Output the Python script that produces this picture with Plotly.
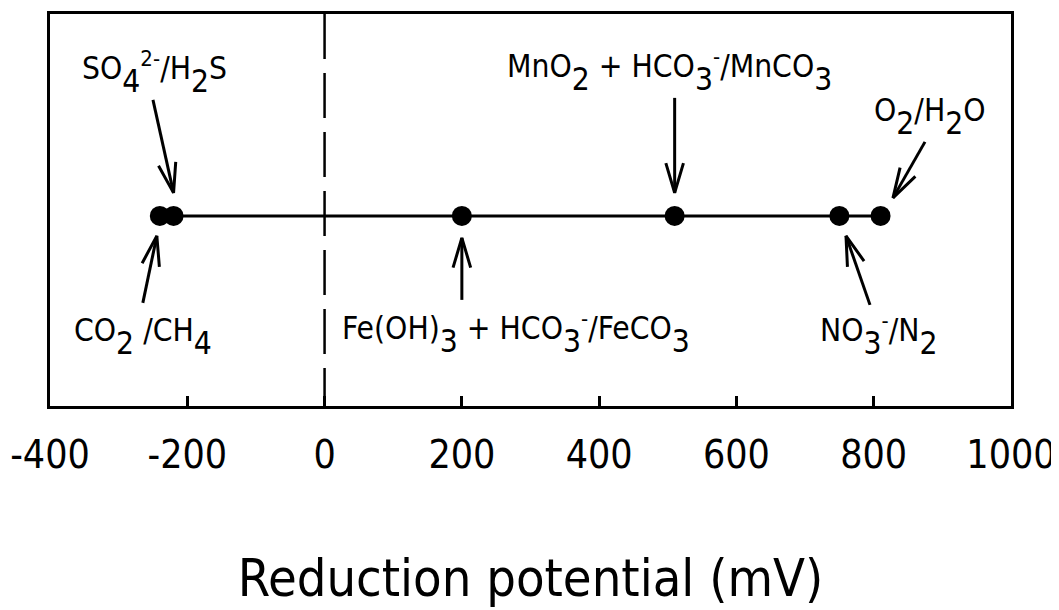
import math
import plotly.graph_objects as go

# ---- data ----
couples = ["CO2/CH4", "SO4/H2S", "Fe(OH)3/FeCO3", "MnO2/MnCO3", "NO3/N2", "O2/H2O"]
potentials_mV = [-240, -220, 200, 510, 750, 810]
x_ticks = [-400, -200, 0, 200, 400, 600, 800, 1000]
x_range = [-400, 1000]
y_range = [0, 1]
LEVEL = 0.485


def SUB(t):
    return f'<span style="baseline-shift:-0.4em">{t}</span>'


label_texts = [
    "CO" + SUB("2") + " /CH" + SUB("4"),
    "SO" + SUB("4") + "<sup>2-</sup>/H" + SUB("2") + "S",
    "Fe(OH)" + SUB("3") + " + HCO" + SUB("3") + "<sup>-</sup>/FeCO" + SUB("3"),
    "MnO" + SUB("2") + " + HCO" + SUB("3") + "<sup>-</sup>/MnCO" + SUB("3"),
    "NO" + SUB("3") + "<sup>-</sup>/N" + SUB("2"),
    "O" + SUB("2") + "/H" + SUB("2") + "O",
]

# ---- layout / style (pixel offsets relative to each point) ----
PAGE_OFF = 8  # default body margin of the page
W, H = 1059 - PAGE_OFF, 610 - PAGE_OFF
ML, MR, MT, MB = 50 - PAGE_OFF, 48, 14 - PAGE_OFF, 204
FONT = "DejaVu Sans Condensed, DejaVu Sans, sans-serif"
LABEL_SIZE = 31.5
tip_off = [(-3, 20), (0, -23), (0, 22), (0, -23), (6.6, 20), (12.4, -18)]
tail_off = [(-17, 87), (-20.6, -116), (0, 84), (0, -118), (30.6, 89), (44.4, -74)]
label_off = [(-88, 126), (-94, -136), (-122, 124), (-170, -138), (-21, 126), (-9, -94)]
HEAD_LEN = 31
HEAD_ANG = math.radians(16.5)

PX_PER_X = (W - ML - MR) / (x_range[1] - x_range[0])
PX_PER_Y = (H - MT - MB) / (y_range[1] - y_range[0])


def to_data(v, px, py):
    return v + px / PX_PER_X, LEVEL - py / PX_PER_Y


fig = go.Figure()

fig.add_shape(type="line", xref="x", yref="paper", x0=0, x1=0, y0=1, y1=0,
              line=dict(color="black", width=2.5, dash="45px,14px"), layer="below")

for i, v in enumerate(potentials_mV):
    tx, ty = tip_off[i]
    sx, sy = tail_off[i]
    ang = math.atan2(sy - ty, sx - tx)
    a1 = ang - HEAD_ANG
    a2 = ang + HEAD_ANG
    p_tail = to_data(v, sx, sy)
    p_tip = to_data(v, tx, ty)
    p_a1 = to_data(v, tx + HEAD_LEN * math.cos(a1), ty + HEAD_LEN * math.sin(a1))
    p_a2 = to_data(v, tx + HEAD_LEN * math.cos(a2), ty + HEAD_LEN * math.sin(a2))
    xs = [p_tail[0], p_tip[0], None, p_a1[0], p_tip[0], p_a2[0]]
    ys = [p_tail[1], p_tip[1], None, p_a1[1], p_tip[1], p_a2[1]]
    fig.add_trace(go.Scatter(x=xs, y=ys, mode="lines",
                             line=dict(color="black", width=3),
                             hoverinfo="skip", showlegend=False))
    lx, ly = label_off[i]
    fig.add_annotation(x=v, y=LEVEL, xref="x", yref="y", text=label_texts[i],
                       showarrow=False, xanchor="left", yanchor="bottom",
                       xshift=lx, yshift=-(ly + 0.64 * LABEL_SIZE + 1),
                       font=dict(family=FONT, size=LABEL_SIZE, color="black"))

fig.add_trace(go.Scatter(
    x=potentials_mV, y=[LEVEL] * len(potentials_mV),
    mode="lines+markers",
    line=dict(color="black", width=3),
    marker=dict(color="black", size=20),
    text=couples, hoverinfo="x+text", showlegend=False,
))

fig.update_layout(
    width=W, height=H,
    margin=dict(l=ML, r=MR, t=MT, b=MB),
    plot_bgcolor="white", paper_bgcolor="white",
    font=dict(family=FONT, color="black"),
    showlegend=False,
)
fig.update_xaxes(
    range=x_range, tickvals=x_ticks, ticktext=[str(t) for t in x_ticks],
    ticks="inside", ticklen=10, tickwidth=2.5, tickcolor="black",
    showline=True, linewidth=3, linecolor="black", mirror=True,
    showgrid=False, zeroline=False, automargin=False,
    ticklabeloverflow="allow",
    tickfont=dict(family=FONT, size=39, color="black"),
    ticklabelstandoff=12,
    title=dict(text="Reduction potential (mV)", standoff=84,
               font=dict(family=FONT, size=52, color="black")),
)
fig.update_yaxes(
    range=y_range, showline=True, linewidth=3, linecolor="black", mirror=True,
    showticklabels=False, ticks="", showgrid=False, zeroline=False, automargin=False,
)

fig.write_html("out.html")
